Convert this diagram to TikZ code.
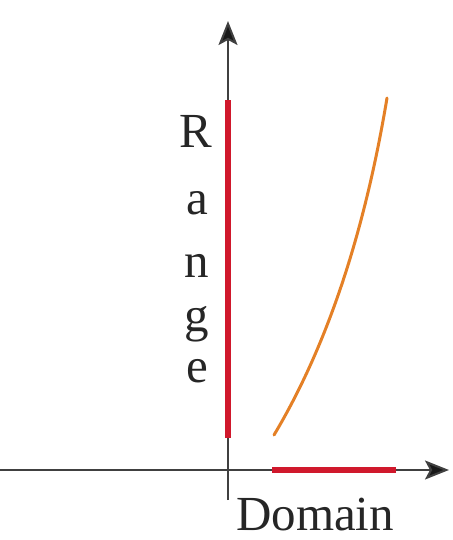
\documentclass[tikz,border=0pt]{standalone}
\usepackage{fontspec}
\setmainfont{Liberation Serif}
\usetikzlibrary{arrows.meta}
\definecolor{curveorange}{RGB}{228,128,38}
\definecolor{segred}{RGB}{208,24,44}
\begin{document}
\begin{tikzpicture}[x=1pt,y=-1pt,
  axis/.style={draw=black!75,line width=2pt,-{Stealth[length=24pt,width=19pt,inset=5pt,fill=black!90]}},
  redseg/.style={draw=segred,line width=6pt},
  curveline/.style={draw=curveorange,line width=3pt,line cap=round},
  lbl/.style={inner sep=0pt,anchor=base,font=\fontsize{49}{49}\selectfont,text=black!85}]
\useasboundingbox (0,0) rectangle (452,540);
% axis coordinates
\coordinate (xs) at (0,470);
\coordinate (xe) at (449,470);
\coordinate (ys) at (228,500);
\coordinate (ye) at (228,21);
\draw[axis] (xs) -- (xe);
\draw[axis] (ys) -- (ye);
% range and domain segments
\coordinate (r1) at (228,438);
\coordinate (r2) at (228,100);
\coordinate (d1) at (272,470);
\coordinate (d2) at (396,470);
\draw[redseg] (r1) -- (r2);
\draw[redseg] (d1) -- (d2);
% curve
\coordinate (c1) at (274,435);
\coordinate (c2) at (387,98);
\draw[curveline] (c1) .. controls (326,348) and (364,236) .. (c2);
% labels
\node[lbl] (R) at (196,148) {R};
\node[lbl] (a) at (197,214) {a};
\node[lbl] (n) at (197,277) {n};
\node[lbl] (g) at (197,331) {g};
\node[lbl] (e) at (197,382) {e};
\node[lbl,anchor=base west] (dom) at (236,530) {Domain};
\end{tikzpicture}
\end{document}
